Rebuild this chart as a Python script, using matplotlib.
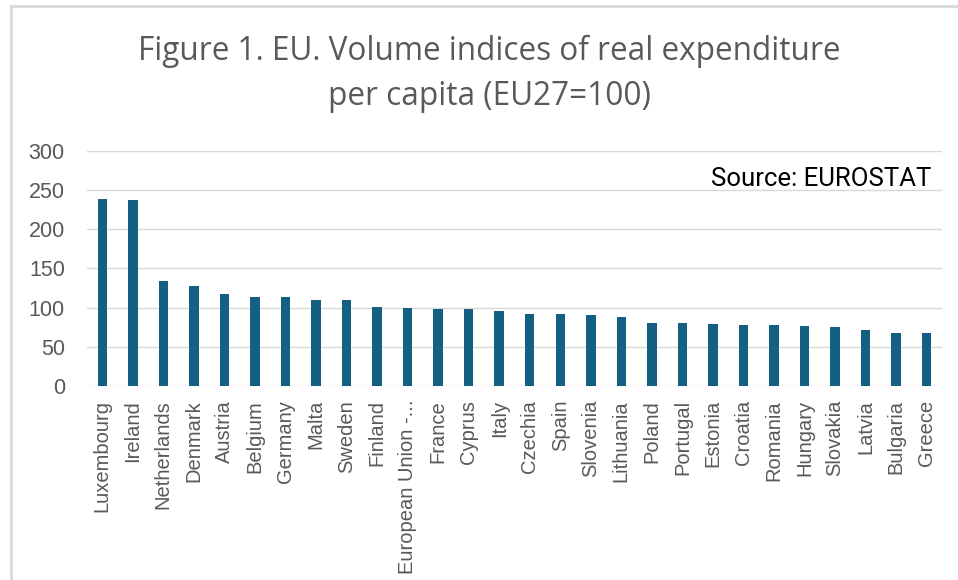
import matplotlib
matplotlib.use("Agg")
import matplotlib.pyplot as plt
from matplotlib.lines import Line2D

plt.rcParams['font.family'] = ['Liberation Sans', 'DejaVu Sans']

countries = ["Luxembourg", "Ireland", "Netherlands", "Denmark", "Austria",
             "Belgium", "Germany", "Malta", "Sweden", "Finland",
             "European Union -...", "France", "Cyprus", "Italy", "Czechia",
             "Spain", "Slovenia", "Lithuania", "Poland", "Portugal",
             "Estonia", "Croatia", "Romania", "Hungary", "Slovakia",
             "Latvia", "Bulgaria", "Greece"]
values = [239, 237, 134, 127, 117, 114, 114, 110, 110, 101,
          100, 98, 98, 96, 92, 92, 91, 88, 81, 81,
          79, 78, 78, 76, 75, 71, 68, 68]
y_ticks = [0, 50, 100, 150, 200, 250, 300]

grey = "#595959"
bar_color = "#156082"

fig = plt.figure(figsize=(9.58, 5.80), dpi=100)
ax = fig.add_axes([0.0908, 0.3345, 0.8925, 0.4052])

x = range(len(countries))
ax.bar(x, values, width=0.31, color=bar_color, zorder=3)

ax.set_ylim(0, 300)
ax.set_xlim(-0.5, len(countries) - 0.5)
ax.set_yticks(y_ticks)
ax.set_xticks(list(x))
ax.set_xticklabels(countries, rotation=90, fontsize=14.5, color=grey)
ax.tick_params(axis="y", length=0, pad=16, labelsize=15.5, labelcolor=grey)
ax.tick_params(axis="x", length=0, pad=10)
ax.grid(axis="y", color="#d9d9d9", linewidth=1, zorder=0)
for s in ax.spines.values():
    s.set_visible(False)

fig.text(0.511, 0.873,
         "Figure 1. EU. Volume indices of real expenditure\nper capita (EU27=100)",
         ha="center", va="center", fontsize=22.7, color=grey, linespacing=1.5,
         family=["Open Sans", "DejaVu Sans"])
ax.text(0.987, 0.88, "Source: EUROSTAT", transform=ax.transAxes,
        ha="right", va="center", fontsize=18.5, color="black",
        family=["Roboto", "DejaVu Sans"])

# light frame along the top and left edges
frame = dict(color="#d9d9d9", linewidth=2, transform=fig.transFigure)
fig.add_artist(Line2D([11 / 958, 1], [1 - 6 / 580, 1 - 6 / 580], **frame))
fig.add_artist(Line2D([11 / 958, 11 / 958], [0, 1 - 6 / 580], **frame))

fig.savefig("out.png", dpi=100, facecolor="white")
